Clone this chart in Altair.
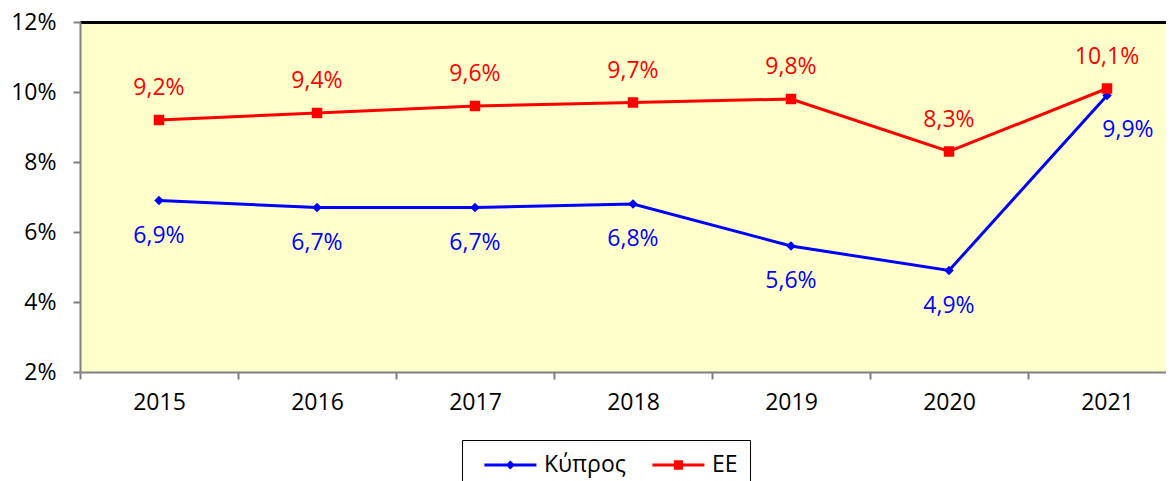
import altair as alt
import pandas as pd

years = ["2015", "2016", "2017", "2018", "2019", "2020", "2021"]
cyprus = [6.9, 6.7, 6.7, 6.8, 5.6, 4.9, 9.9]
eu = [9.2, 9.4, 9.6, 9.7, 9.8, 8.3, 10.1]
series = ["Κύπρος", "EE"]
colors = ["#0000FF", "#FF0000"]
y_ticks = [0.02, 0.04, 0.06, 0.08, 0.10, 0.12]

rows = []
for y, c, e in zip(years, cyprus, eu):
    rows.append({"year": y, "series": series[0], "value": c / 100})
    rows.append({"year": y, "series": series[1], "value": e / 100})
df = pd.DataFrame(rows)

FONT = "Open Sans"
FS = 23

# legend symbols: a line with a marker, drawn right of the symbol centre
diamond_leg = "M-0.2,-0.115H3.8V0.115H-0.2Z M1.45,0L1.8,-0.35L2.15,0L1.8,0.35Z"
square_leg = "M-0.2,-0.115H3.8V0.115H-0.2Z M1.45,-0.36H2.15V0.36H1.45Z"
leg_shape_expr = "datum.value === 'EE' ? '%s' : '%s'" % (square_leg, diamond_leg)

x_scale = alt.Scale(type="band", paddingInner=0, paddingOuter=0)

x_bottom = alt.X(
    "year:O",
    title=None,
    sort=years,
    scale=x_scale,
    axis=alt.Axis(
        tickBand="extent",
        labelAngle=0,
        labelFont=FONT,
        labelFontSize=FS,
        labelColor="#000000",
        labelPadding=12,
        tickSize=7,
        tickColor="#808080",
        tickWidth=2,
        domainColor="#808080",
        domainWidth=2,
        grid=False,
    ),
)
x_top = alt.X(
    "year:O",
    title=None,
    sort=years,
    scale=x_scale,
    axis=alt.Axis(
        orient="top",
        labels=False,
        ticks=False,
        domainColor="#000000",
        domainWidth=3,
        grid=False,
    ),
)
x_none = alt.X("year:O", title=None, sort=years, scale=x_scale, axis=None)

y_enc = alt.Y(
    "value:Q",
    title=None,
    scale=alt.Scale(domain=[0.02, 0.12], nice=False),
    axis=alt.Axis(
        values=y_ticks,
        format=".0%",
        labelFont=FONT,
        labelFontSize=FS,
        labelColor="#000000",
        labelPadding=17,
        tickSize=7,
        tickColor="#808080",
        tickWidth=2,
        domainColor="#808080",
        domainWidth=2,
        grid=False,
    ),
)

legend = alt.Legend(
    title=None,
    orient="none",
    direction="horizontal",
    legendX=382,
    legendY=418,
    fillColor="#FFFFFF",
    strokeColor="#000000",
    padding=12,
    labelFont=FONT,
    labelFontSize=FS,
    labelColor="#000000",
    symbolType={"expr": leg_shape_expr},
    symbolSize=676,
    symbolStrokeWidth=0,
    symbolOpacity=1,
    labelOffset=44,
    columnPadding=16,
)

color_scale = alt.Scale(domain=series, range=colors)

base = alt.Chart(df)

lines = base.mark_line(strokeWidth=3).encode(
    x=x_bottom,
    y=y_enc,
    stroke=alt.Stroke("series:N", scale=color_scale, legend=legend),
    detail="series:N",
)

cy_markers = base.transform_filter(alt.datum.series == "Κύπρος").mark_point(
    filled=True, opacity=1, strokeWidth=0, shape="diamond", size=90
).encode(
    x=x_none,
    y=y_enc,
    fill=alt.Fill("series:N", scale=color_scale, legend=legend),
)

eu_markers = base.transform_filter(alt.datum.series == "EE").mark_point(
    filled=True, opacity=1, strokeWidth=0, shape="square", size=110
).encode(
    x=x_none,
    y=y_enc,
    fill=alt.Fill("series:N", scale=color_scale, legend=legend),
)

red_labels = base.transform_filter(alt.datum.series == "EE").mark_text(
    dy=-32, font=FONT, fontSize=FS, color="#FF0000"
).encode(x=x_top, y=y_enc, text=alt.Text("value:Q", format=".1%"))

blue_labels = base.transform_filter(
    (alt.datum.series == "Κύπρος") & (alt.datum.year != "2021")
).mark_text(dy=35, font=FONT, fontSize=FS, color="#0000FF").encode(
    x=x_none, y=y_enc, text=alt.Text("value:Q", format=".1%")
)

blue_last = base.transform_filter(
    (alt.datum.series == "Κύπρος") & (alt.datum.year == "2021")
).mark_text(dy=34, dx=21, font=FONT, fontSize=FS, color="#0000FF").encode(
    x=x_none, y=y_enc, text=alt.Text("value:Q", format=".1%")
)

chart = (
    alt.layer(lines, cy_markers, eu_markers, red_labels, blue_labels, blue_last)
    .resolve_axis(x="independent")
    .properties(
        width=1106,
        height=350,
        autosize=alt.AutoSizeParams(type="none"),
        padding={"left": 72, "top": 14, "right": -20, "bottom": 110},
        background="#FFFFFF",
    )
    .configure(
        locale={
            "number": {
                "decimal": ",",
                "thousands": ".",
                "grouping": [3],
                "currency": ["", "\u20ac"],
            }
        }
    )
    .configure_view(fill="#FFFFCC", strokeWidth=0)
)

chart.save("out.html", embed_options={"renderer": "svg", "actions": False})
